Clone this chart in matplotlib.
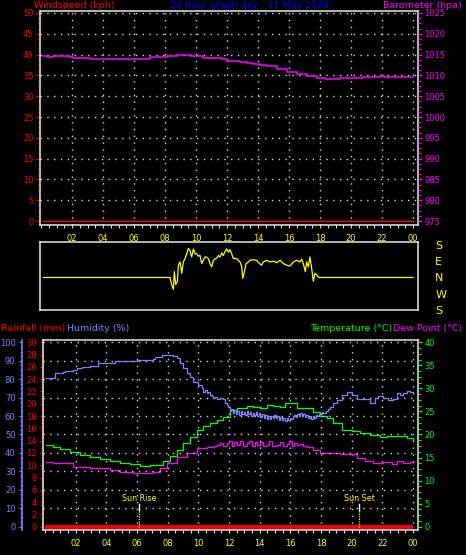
import matplotlib
matplotlib.use("Agg")
import matplotlib.pyplot as plt
from matplotlib.ticker import MultipleLocator, FixedLocator, AutoMinorLocator
import matplotlib.transforms as mtransforms

# ---------------- data ----------------
hour_ticks = [2, 4, 6, 8, 10, 12, 14, 16, 18, 20, 22, 24]
hour_labels = ["02", "04", "06", "08", "10", "12", "14", "16", "18", "20", "22", "00"]

wind_hours = [0.15, 24.0]
wind_kph = [0, 0]

baro_hours = [0.15, 0.37, 0.8, 1.87, 2.08, 2.73, 3.16, 4.24, 4.99, 5.4, 5.96, 6.39,
              7.03, 8.11, 8.75, 9.61, 10.47, 11.12, 11.66, 11.98, 12.4, 12.84, 13.3,
              13.7, 14.1, 14.56, 15.2, 15.85, 16.5, 17.14, 17.79, 18.3, 18.65, 19.29,
              20.15, 20.8, 21.44, 21.87, 22.1, 22.73, 23.6, 24.0]
baro_hpa = [1014.66, 1014.5, 1014.66, 1014.5, 1014.2, 1014.1, 1013.94, 1014.0, 1013.9,
            1013.94, 1013.87, 1014.0, 1014.5, 1014.74, 1014.8, 1014.66, 1014.3, 1014.2,
            1014.0, 1013.54, 1013.4, 1013.2, 1012.95, 1012.7, 1012.45, 1012.2, 1011.6,
            1010.9, 1010.3, 1009.9, 1009.45, 1009.2, 1009.06, 1009.3, 1009.45, 1009.5,
            1009.6, 1009.9, 1009.6, 1009.5, 1009.5, 1009.7]

dir_hours = [0.15, 8.32, 8.43, 8.54, 8.60, 8.69, 8.80, 8.86, 8.97, 9.08, 9.18, 9.29,
             9.40, 9.51, 9.61, 9.72, 9.83, 9.94, 10.04, 10.15, 10.26, 10.37, 10.47,
             10.58, 10.69, 10.80, 10.90, 11.01, 11.12, 11.23, 11.33, 11.44, 11.55,
             11.66, 11.76, 11.87, 11.98, 12.09, 12.19, 12.30, 12.41, 12.52, 12.62,
             12.73, 12.84, 12.95, 13.01, 13.10, 13.23, 13.38, 13.48, 13.70, 13.91,
             14.09, 14.24, 14.34, 14.56, 14.77, 14.99, 15.20, 15.42, 15.63, 15.85,
             16.06, 16.28, 16.49, 16.71, 16.82, 16.92, 17.05, 17.14, 17.24, 17.35,
             17.46, 17.57, 17.67, 17.78, 17.93, 24.0]
dir_deg = [0, 0, -39, -66, 32, -39, -21, 68, 86, 23, 86, 104,
           131, 161, 149, 113, 158, 131, 131, 118, 122, 77, 95,
           113, 113, 104, 77, 59, 95, 104, 107, 122, 113,
           136, 122, 143, 158, 140, 154, 131, 104, 107, 104,
           95, 86, 59, -4, 23, 77, 86, 95, 98, 95,
           77, 68, 86, 95, 86, 90, 82, 95, 77, 68,
           63, 86, 95, 86, 100, 77, 32, 86, 59, 113,
           50, -21, 23, 14, 0, 0]
dir_labels = ["S", "E", "N", "W", "S"]
dir_label_deg = [180, 90, 0, -90, -180]

hum_hours = [0.07, 0.54, 0.65, 1.2, 1.3, 1.85, 2.06, 2.39, 2.93, 3.48, 4.02, 4.56,
             4.89, 5.98, 7.06, 7.17, 7.6, 8.37, 8.58, 8.8, 9.02, 9.24, 9.45, 9.67,
             9.99, 10.21, 10.3, 10.4, 10.54, 10.65, 10.76, 10.87, 10.97, 11.1, 11.2,
             11.41, 11.62, 11.75, 11.85, 11.95, 12.05, 12.15, 12.25, 12.35, 12.45,
             12.55, 12.65, 12.75, 12.85, 12.95, 13.05, 13.15, 13.25, 13.35, 13.45,
             13.55, 13.65, 13.75, 13.85, 13.95, 14.05, 14.15, 14.25, 14.35, 14.45,
             14.55, 14.65, 14.75, 14.85, 14.95, 15.05, 15.15, 15.25, 15.35, 15.45,
             15.55, 15.65, 15.75, 15.85, 15.95, 16.05, 16.15, 16.25, 16.35, 16.45,
             16.55, 16.65, 16.75, 16.85, 16.95, 17.05, 17.15, 17.25, 17.35, 17.45,
             17.55, 17.65, 17.75, 17.85, 17.95, 18.05, 18.15, 18.3, 18.45, 18.6,
             18.8, 19.02, 19.34, 19.67, 19.99, 20.32, 20.86, 21.19, 21.51, 21.73,
             22.06, 22.38, 22.71, 22.93, 23.14, 23.36, 23.58, 23.79, 24.0]
hum_pct = [80.8, 80.8, 83.2, 83.7, 84.6, 85.0, 85.9, 86.8, 87.3, 88.6, 88.9, 89.7,
           90.1, 90.4, 90.9, 91.9, 92.9, 92.7, 91.3, 88.9, 85.9, 83.2, 81.0, 78.6,
           76.8, 75.0, 73.2, 74.2, 72.3, 72.8, 71.4, 71.0, 69.6, 70.2, 69.2,
           69.6, 69.1, 67.0, 66.2, 65.1, 62.5, 64.0, 61.8, 63.5, 61.0,
           63.0, 60.8, 62.6, 61.2, 62.4, 60.5, 62.8, 61.0, 62.0, 60.2,
           61.8, 60.5, 62.2, 60.0, 61.5, 59.5, 61.0, 59.0, 60.8, 58.5,
           60.2, 58.2, 59.8, 58.8, 60.5, 59.0, 60.2, 58.0, 59.5, 57.8,
           59.2, 57.5, 58.8, 57.6, 59.0, 58.2, 59.8, 60.6, 59.5, 61.0,
           60.2, 61.4, 60.0, 61.2, 59.6, 60.8, 58.8, 60.0, 58.6, 60.2,
           59.2, 60.6, 60.0, 61.2, 61.0, 62.0, 61.8, 63.0, 64.0, 65.1,
           67.0, 68.7, 71.4, 72.9, 71.4, 69.3, 69.1, 67.2, 69.6, 70.9,
           69.6, 68.7, 69.1, 72.3, 71.4, 72.7, 73.8, 73.3, 72.9]

temp_hours = [0.07, 0.54, 0.98, 1.63, 2.28, 2.93, 3.58, 4.24, 4.89, 5.54, 6.19, 6.84,
              7.28, 7.71, 8.15, 8.58, 9.02, 9.45, 9.89, 10.32, 10.76, 11.19, 11.62,
              12.06, 12.5, 13.15, 13.58, 14.02, 14.45, 14.88, 15.32, 15.65, 16.19,
              16.41, 17.06, 17.49, 17.93, 18.36, 18.79, 19.34, 19.99, 20.53, 21.19,
              21.84, 22.28, 23.03, 23.58, 24.0]
temp_c = [17.7, 17.35, 16.85, 16.27, 15.55, 15.05, 14.69, 14.25, 13.88, 13.53, 13.17, 13.3,
          13.38, 14.25, 15.34, 16.64, 18.1, 19.5, 20.98, 21.84, 22.56, 23.15, 23.86,
          25.3, 25.7, 26.2, 26.0, 25.7, 26.4, 26.2, 25.9, 26.77, 26.77,
          25.7, 25.7, 24.95, 24.0, 23.5, 22.4, 21.0, 20.76, 20.26, 19.9,
          19.4, 19.67, 19.67, 19.17, 18.7]

dew_hours = [0.07, 0.54, 1.2, 1.85, 2.93, 3.58, 4.24, 4.89, 5.76, 6.19, 7.06, 7.5,
             7.93, 8.58, 9.24, 9.89, 10.54, 11.0, 11.19, 11.4, 11.6, 11.84, 12.0,
             12.2, 12.35, 12.5, 12.7, 12.9, 13.15, 13.3, 13.5, 13.7, 13.8, 14.0,
             14.2, 14.45, 14.6, 14.8, 15.1, 15.3, 15.5, 15.76, 15.9, 16.1, 16.25,
             16.41, 16.6, 16.8, 17.06, 17.49, 17.93, 18.58, 19.23, 19.88, 20.32,
             20.86, 21.41, 22.06, 22.6, 22.93, 23.36, 23.79, 24.0]
dew_c = [14.1, 13.88, 13.74, 13.0, 12.8, 12.65, 12.3, 11.93, 11.58, 11.58, 11.93, 12.66,
         13.75, 15.05, 15.9, 17.0, 17.35, 17.6, 17.72, 18.2, 17.6, 18.08, 18.5,
         17.5, 18.3, 17.72, 18.6, 17.6, 18.08, 18.5, 17.4, 18.3, 17.72, 18.4,
         17.5, 17.8, 18.5, 17.6, 17.72, 18.3, 17.5, 17.9, 18.5, 17.6, 18.2,
         17.72, 18.0, 17.5, 17.35, 16.64, 16.06, 15.9, 15.7, 15.7, 14.83,
         14.33, 13.88, 14.1, 13.6, 14.33, 13.88, 14.1, 13.74]

rain_hours = [0.0, 24.0]
rain_mm = [0, 0]

sun_labels = ["Sun Rise", "Sun Set"]
sun_hours = [6.15, 20.5]

# ---------------- style ----------------
W, H, DPI = 466, 555, 100
BG = "black"
RED = "#ff0000"
MAG = "#ff00ff"
BLUE = "#0000ff"
HUM = "#7f7fff"
GREEN = "#00ff00"
YEL = "#ffff00"
FRAME = "#e6e6e6"
GRID = "#d8d8d8"
TICK_FS = 6
HEAD_FS = 6.8

plt.rcParams["font.family"] = ["DejaVu Sans"]


def rect(l, t, r, b):
    return [l / W, 1 - b / H, (r - l) / W, (b - t) / H]


def style_frame(ax):
    ax.set_facecolor(BG)
    for s in ax.spines.values():
        s.set_color(FRAME)
        s.set_linewidth(1.1)


fig = plt.figure(figsize=(W / DPI, H / DPI), dpi=DPI, facecolor=BG)

# ---------------- top panel: wind speed & barometer ----------------
ax1 = fig.add_axes(rect(40, 10.5, 418, 225))
style_frame(ax1)
ax1.set_xlim(-0.065, 24.32)
ax1.set_ylim(-0.96, 50.6)
ax1.xaxis.set_major_locator(FixedLocator(hour_ticks))
ax1.set_xticklabels(hour_labels)
ax1.xaxis.set_minor_locator(MultipleLocator(0.5))
ax1.tick_params(axis="x", which="both", colors=FRAME, labelcolor=YEL, labelsize=TICK_FS,
                length=2.2, width=0.8, pad=4.5)
ax1.yaxis.set_major_locator(MultipleLocator(5))
ax1.yaxis.set_minor_locator(AutoMinorLocator(4))
ax1.tick_params(axis="y", which="major", colors=RED, labelsize=TICK_FS, length=3.2,
                width=0.9, pad=1.5)
ax1.tick_params(axis="y", which="minor", colors=RED, length=1.8, width=0.8)
for v in range(5, 51, 5):
    ax1.axhline(v, color=GRID, lw=1.0, ls=(0, (1, 3.9)), zorder=1)
for v in range(2, 25, 2):
    ax1.axvline(v, color=GRID, lw=1.0, ls=(0, (1, 3.9)), zorder=1)
ax1.plot(wind_hours, wind_kph, color=RED, lw=1.0, zorder=3)

ax1r = ax1.twinx()
ax1r.set_ylim(974.04, 1025.6)
ax1r.yaxis.set_major_locator(MultipleLocator(5))
ax1r.yaxis.set_minor_locator(AutoMinorLocator(4))
ax1r.tick_params(axis="y", which="major", colors=MAG, labelsize=TICK_FS, length=3.2,
                 width=0.9, pad=1.5)
ax1r.tick_params(axis="y", which="minor", colors=MAG, length=1.8, width=0.8)
for s in ax1r.spines.values():
    s.set_visible(False)
ax1r.plot(baro_hours, baro_hpa, color=MAG, lw=1.1, drawstyle="steps-post", zorder=3)

# ---------------- wind direction panel ----------------
axw = fig.add_axes(rect(40, 241.7, 418, 310))
style_frame(axw)
axw.set_xlim(-0.065, 24.32)
axw.set_ylim(-180, 198)
axw.set_xticks([])
axw.yaxis.tick_right()
axw.set_yticks(dir_label_deg)
axw.set_yticklabels(dir_labels)
axw.tick_params(axis="y", length=0, labelcolor=YEL, labelsize=8, pad=12.5)
axw.plot(dir_hours, dir_deg, color=YEL, lw=0.9)

# ---------------- bottom panel ----------------
axb = fig.add_axes(rect(43, 340, 418, 530))
style_frame(axb)
axb.set_xlim(-0.13, 24.32)
axb.set_ylim(-0.54, 30.375)
axb.xaxis.set_major_locator(FixedLocator(hour_ticks))
axb.set_xticklabels(hour_labels)
axb.xaxis.set_minor_locator(MultipleLocator(0.5))
axb.tick_params(axis="x", which="both", colors=FRAME, labelcolor=YEL, labelsize=TICK_FS,
                length=2.2, width=0.8, pad=4.5)
axb.yaxis.set_major_locator(MultipleLocator(2))
axb.yaxis.set_minor_locator(AutoMinorLocator(5))
axb.tick_params(axis="y", which="major", colors=RED, labelsize=TICK_FS, length=2.5,
                width=0.9, pad=2)
axb.tick_params(axis="y", which="minor", colors=RED, length=1.2, width=0.8)
for v in range(2, 25, 2):
    axb.axvline(v, color=GRID, lw=1.0, ls=(0, (1, 3.9)), zorder=1)
axb.plot(rain_hours, rain_mm, color=RED, lw=2.8, zorder=4, solid_capstyle="butt")

# temperature / dew point (right)
axt = axb.twinx()
axt.set_ylim(-0.72, 40.5)
axt.yaxis.set_major_locator(MultipleLocator(5))
axt.yaxis.set_minor_locator(AutoMinorLocator(4))
axt.tick_params(axis="y", which="major", colors=GREEN, labelsize=TICK_FS, length=3,
                width=0.9, pad=1.5)
axt.tick_params(axis="y", which="minor", colors=GREEN, length=1.8, width=0.8)
for s in axt.spines.values():
    s.set_visible(False)
axt.plot(temp_hours, temp_c, color=GREEN, lw=0.9, drawstyle="steps-post", zorder=3)
axt.plot(dew_hours, dew_c, color=MAG, lw=0.9, drawstyle="steps-post", zorder=3)

# humidity (outer left)
axh = fig.add_axes(rect(43, 340, 418, 530), frameon=True)
axh.patch.set_visible(False)
for name, s in axh.spines.items():
    s.set_visible(name == "left")
axh.spines["left"].set_position(("outward", 15.3))
axh.spines["left"].set_color(HUM)
axh.spines["left"].set_linewidth(1.2)
axh.set_xlim(-0.13, 24.32)
axh.set_ylim(-1.8, 101.25)
axh.set_xticks([])
axh.yaxis.set_major_locator(MultipleLocator(10))
axh.yaxis.set_minor_locator(AutoMinorLocator(4))
axh.tick_params(axis="y", which="major", colors=HUM, labelsize=TICK_FS, length=2.5,
                width=0.9, pad=2)
axh.tick_params(axis="y", which="minor", colors=HUM, length=1.5, width=0.8)
for v in range(10, 101, 10):
    axh.axhline(v, color=GRID, lw=1.0, ls=(0, (1, 3.9)), zorder=1)
axh.plot(hum_hours, hum_pct, color=HUM, lw=0.9, drawstyle="steps-post", zorder=2)

# sunrise / sunset markers
trans = mtransforms.blended_transform_factory(axb.transData, axb.transAxes)
for lab, hx in zip(sun_labels, sun_hours):
    axb.plot([hx, hx], [0.105, 0.137], transform=trans, color="white", lw=1.0, zorder=5)
    axb.plot([hx, hx], [0.015, 0.105], transform=trans, color=YEL, lw=0.9,
             ls=(0, (1, 1)), zorder=5)
    axb.text(hx, 0.168, lab, transform=trans, color=YEL, fontsize=5.8,
             ha="center", va="center", zorder=6)

# ---------------- header texts ----------------
def ftext(x, y, s, color, ha="left"):
    fig.text(x / W, 1 - y / H, s, color=color, fontsize=HEAD_FS, ha=ha, va="baseline")

ftext(34, 8.3, "Windspeed (kph)", RED)
ftext(250, 8.3, "24 hour graph day : 11 May 2026", BLUE, ha="center")
ftext(462, 8.3, "Barometer (hpa)", MAG, ha="right")
ftext(0.7, 330.7, "Rainfall (mm)", RED)
ftext(66.7, 330.7, "Humidity (%)", HUM)
ftext(392, 330.7, "Temperature (°C)", GREEN, ha="right")
ftext(462, 330.7, "Dew Point (°C)", MAG, ha="right")

fig.savefig("out.png", dpi=DPI, facecolor=BG)
